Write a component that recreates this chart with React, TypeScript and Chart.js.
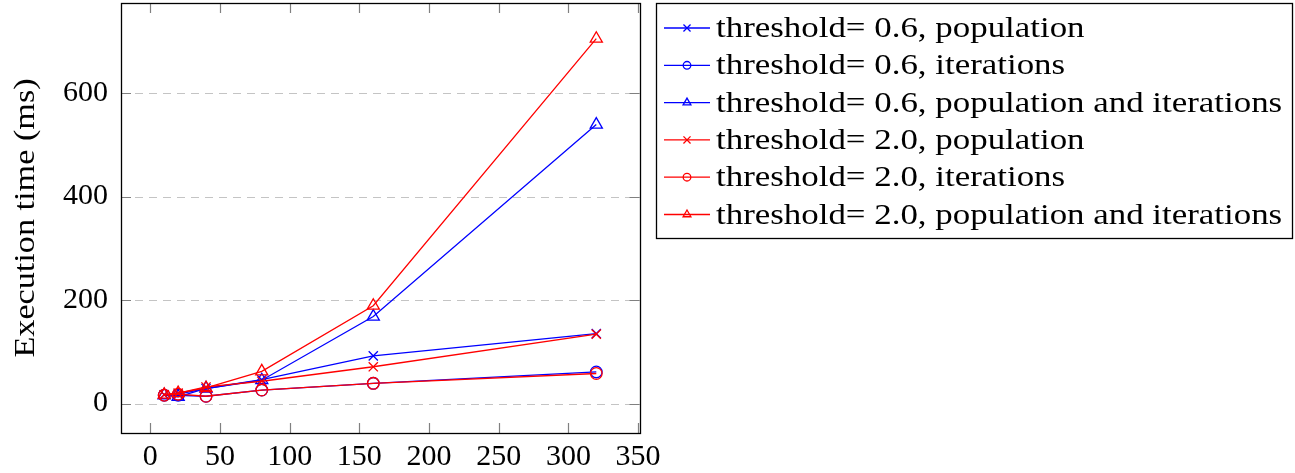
import React, { useEffect, useRef } from "react";
import { Chart, registerables } from "chart.js";

Chart.register(...registerables);

// ---- data ----
const sizes = [10, 20, 40, 80, 160, 320];
const popLow = [17, 18, 29, 46, 92, 135];
const iterLow = [16, 16, 14, 26, 39, 61];
const bothLow = [16, 13, 29, 45, 168, 539];
const popHigh = [17, 20, 32, 43, 71, 134];
const iterHigh = [16, 18, 14, 26, 39, 58];
const bothHigh = [17, 20, 30, 62, 189, 705];

const seriesLabels = [
  "threshold= 0.6, population",
  "threshold= 0.6, iterations",
  "threshold= 0.6, population and iterations",
  "threshold= 2.0, population",
  "threshold= 2.0, iterations",
  "threshold= 2.0, population and iterations",
];
const xTickValues = [0, 50, 100, 150, 200, 250, 300, 350];
const yTickValues = [0, 200, 400, 600];
const xRange = [-21, 351];
const yRange = [-57, 774];
const yTitle = "Execution time (ms)";

// ---- styles ----
const FONT = '"Liberation Serif", "Times New Roman", serif';
const FONT_SIZE = 30;
const TITLE_STRETCH = 1.14;
const LEGEND_STRETCH = 1.163;
const W = 1295;
const H = 473;
const seriesValues = [popLow, iterLow, bothLow, popHigh, iterHigh, bothHigh];
const seriesColors = ["#0000ff", "#0000ff", "#0000ff", "#ff0000", "#ff0000", "#ff0000"];
const seriesMarkers = ["crossRot", "circle", "triangle", "crossRot", "circle", "triangle"];
const markerRadius: Record<string, number> = { crossRot: 6.5, circle: 5.8, triangle: 7 };
const legendMarkerRadius: Record<string, number> = { crossRot: 5, circle: 3.8, triangle: 4.5 };

function drawMarker(ctx: CanvasRenderingContext2D, style: string, x: number, y: number, r: number) {
  ctx.beginPath();
  if (style === "circle") {
    ctx.arc(x, y, r, 0, Math.PI * 2);
  } else if (style === "triangle") {
    for (let k = 0; k < 3; k++) {
      const a = (k * 2 * Math.PI) / 3;
      const px = x + Math.sin(a) * r;
      const py = y - Math.cos(a) * r;
      if (k === 0) ctx.moveTo(px, py);
      else ctx.lineTo(px, py);
    }
    ctx.closePath();
  } else {
    const d = r * Math.SQRT1_2;
    ctx.moveTo(x - d, y - d);
    ctx.lineTo(x + d, y + d);
    ctx.moveTo(x + d, y - d);
    ctx.lineTo(x - d, y + d);
  }
  ctx.stroke();
}

const gridPlugin = {
  id: "pgfGrid",
  beforeDatasetsDraw(chart: any) {
    const { ctx, chartArea: a, scales } = chart;
    ctx.save();
    ctx.strokeStyle = "#c4c4c4";
    ctx.lineWidth = 1.2;
    ctx.setLineDash([8, 6]);
    yTickValues.forEach((v) => {
      const y = Math.round(scales.y.getPixelForValue(v)) + 0.5;
      ctx.beginPath();
      ctx.moveTo(a.left, y);
      ctx.lineTo(a.right, y);
      ctx.stroke();
    });
    ctx.restore();
  },
};

const framePlugin = {
  id: "pgfFrame",
  afterDatasetsDraw(chart: any) {
    const { ctx, chartArea: a, scales } = chart;
    const tl = 10;
    ctx.save();
    ctx.strokeStyle = "#808080";
    ctx.lineWidth = 1.2;
    ctx.setLineDash([]);
    xTickValues.forEach((v) => {
      const x = Math.round(scales.x.getPixelForValue(v)) + 0.5;
      if (x < a.left || x > a.right) return;
      ctx.beginPath();
      ctx.moveTo(x, a.bottom);
      ctx.lineTo(x, a.bottom - tl);
      ctx.moveTo(x, a.top);
      ctx.lineTo(x, a.top + tl);
      ctx.stroke();
    });
    yTickValues.forEach((v) => {
      const y = Math.round(scales.y.getPixelForValue(v)) + 0.5;
      ctx.beginPath();
      ctx.moveTo(a.left, y);
      ctx.lineTo(a.left + tl, y);
      ctx.moveTo(a.right, y);
      ctx.lineTo(a.right - tl, y);
      ctx.stroke();
    });
    ctx.strokeStyle = "#000";
    ctx.lineWidth = 1.3;
    ctx.strokeRect(
      Math.round(a.left) + 0.5,
      Math.round(a.top) + 0.5,
      Math.round(a.right - a.left),
      Math.round(a.bottom - a.top)
    );
    // y axis title
    ctx.fillStyle = "#000";
    ctx.font = `${FONT_SIZE}px ${FONT}`;
    ctx.textAlign = "center";
    ctx.textBaseline = "alphabetic";
    ctx.translate(34, (a.top + a.bottom) / 2);
    ctx.rotate(-Math.PI / 2);
    ctx.scale(TITLE_STRETCH, 1);
    ctx.fillText(yTitle, 0, 0);
    ctx.restore();
  },
};

const legendPlugin = {
  id: "pgfLegend",
  afterDraw(chart: any) {
    const { ctx } = chart;
    const box = { left: 656, top: 3, right: 1292, bottom: 238 };
    const rowH = 37.3;
    ctx.save();
    ctx.fillStyle = "#fff";
    ctx.fillRect(box.left, box.top, box.right - box.left, box.bottom - box.top);
    ctx.strokeStyle = "#000";
    ctx.lineWidth = 1.3;
    ctx.strokeRect(box.left + 0.5, box.top + 0.5, box.right - box.left, box.bottom - box.top);
    chart.data.datasets.forEach((ds: any, i: number) => {
      const cy = box.top + 25 + i * rowH;
      ctx.strokeStyle = ds.borderColor;
      ctx.lineWidth = 1.3;
      ctx.beginPath();
      ctx.moveTo(box.left + 8, cy);
      ctx.lineTo(box.left + 54, cy);
      ctx.stroke();
      drawMarker(ctx, ds.pointStyle, box.left + 31, cy, legendMarkerRadius[ds.pointStyle]);
      ctx.save();
      ctx.fillStyle = "#000";
      ctx.font = `${FONT_SIZE}px ${FONT}`;
      ctx.textBaseline = "alphabetic";
      ctx.textAlign = "left";
      ctx.translate(box.left + 60, cy + 9);
      ctx.scale(LEGEND_STRETCH, 1);
      ctx.fillText(ds.label, 0, 0);
      ctx.restore();
    });
    ctx.restore();
  },
};

export default function App() {
  const ref = useRef<HTMLCanvasElement | null>(null);
  useEffect(() => {
    if (!ref.current) return;
    const datasets = seriesValues.map((vals, i) => ({
      label: seriesLabels[i],
      data: sizes.map((x, j) => ({ x, y: vals[j] })),
      borderColor: seriesColors[i],
      backgroundColor: "rgba(0,0,0,0)",
      pointBackgroundColor: "rgba(0,0,0,0)",
      pointBorderColor: seriesColors[i],
      pointStyle: seriesMarkers[i],
      pointRadius: markerRadius[seriesMarkers[i]],
      pointHoverRadius: markerRadius[seriesMarkers[i]],
      pointBorderWidth: 1.3,
      borderWidth: 1.3,
      tension: 0,
      fill: false,
      clip: false,
      order: seriesValues.length - 1 - i,
    }));
    const chart = new Chart(ref.current, {
      type: "line",
      data: { datasets } as any,
      options: {
        animation: false,
        responsive: false,
        devicePixelRatio: 1,
        events: [],
        layout: { autoPadding: false, padding: { top: 3, right: W - 639.5, left: 0, bottom: 0 } },
        plugins: { legend: { display: false }, tooltip: { enabled: false } },
        scales: {
          x: {
            type: "linear",
            min: xRange[0],
            max: xRange[1],
            afterBuildTicks: (s: any) => {
              s.ticks = xTickValues.map((v) => ({ value: v }));
            },
            afterFit: (s: any) => {
              s.height = 40;
              s.paddingLeft = 0;
              s.paddingRight = 0;
            },
            grid: { display: false, drawTicks: false, tickLength: 0 },
            border: { display: false },
            ticks: {
              font: { family: FONT, size: FONT_SIZE },
              color: "#000",
              padding: 6,
              maxRotation: 0,
              autoSkip: false,
              callback: (v: any) => String(v),
            },
          },
          y: {
            type: "linear",
            min: yRange[0],
            max: yRange[1],
            afterBuildTicks: (s: any) => {
              s.ticks = yTickValues.map((v) => ({ value: v }));
            },
            afterFit: (s: any) => {
              s.width = 121;
              s.paddingTop = 0;
              s.paddingBottom = 0;
            },
            grid: { display: false, drawTicks: false, tickLength: 0 },
            border: { display: false },
            ticks: {
              font: { family: FONT, size: FONT_SIZE },
              color: "#000",
              padding: 13,
              autoSkip: false,
              callback: (v: any) => String(v),
            },
          },
        },
      } as any,
      plugins: [gridPlugin, framePlugin, legendPlugin],
    });
    return () => chart.destroy();
  }, []);
  return (
    <div style={{ position: "fixed", left: 0, top: 0, width: W, height: H, background: "#fff" }}>
      <canvas ref={ref} width={W} height={H} style={{ display: "block" }} />
    </div>
  );
}
